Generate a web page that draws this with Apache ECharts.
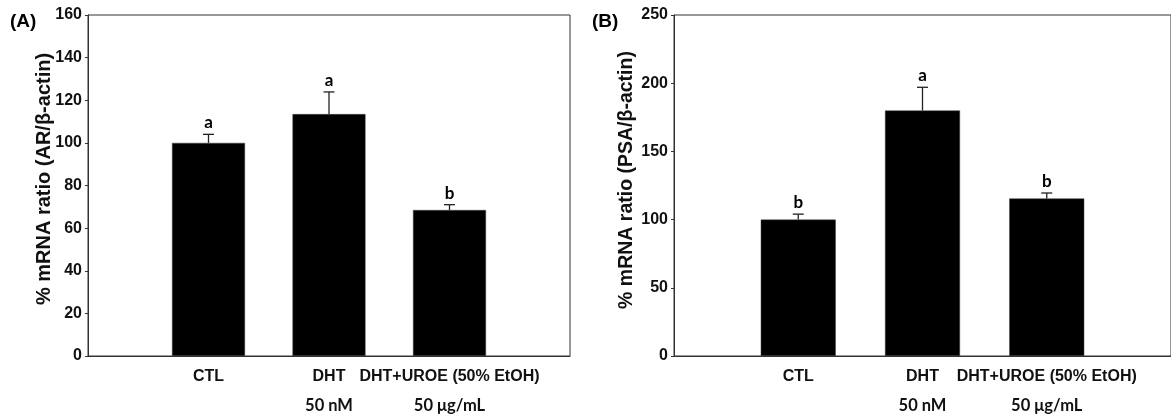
<!DOCTYPE html>
<html>
<head>
<meta charset="UTF-8">
<title>mRNA ratio</title>
<style>
body { padding:0; border:0; margin:0; background:#fff; }
</style>
<script src="https://cdn.jsdelivr.net/npm/echarts@6/dist/echarts.min.js"></script>
</head>
<body>
<div id="main" style="width:1171px;height:414px;"></div>
<script>
// groups (first line) and dose (second line)
var categories = ['CTL', 'DHT', 'DHT+UROE (50% EtOH)'];
var doses = ['', '50 nM', '50 \u03bcg/mL'];

// panel A : AR
var arMean = [100, 113.5, 68.5];
var arErr = [4, 10.4, 2.5];
var arLetter = ['a', 'a', 'b'];
var arTicks = [0, 20, 40, 60, 80, 100, 120, 140, 160];

// panel B : PSA
var psaMean = [100, 180, 115.5];
var psaErr = [4, 17, 4];
var psaLetter = ['b', 'a', 'b'];
var psaTicks = [0, 50, 100, 150, 200, 250];

var bold = 'Liberation Sans, Arial, sans-serif';
var cal = 'Lato, Open Sans, sans-serif';

function barData(m) {
    return m.map(function (v, i) { return [i + 1, v]; });
}
function errData(m, e, l) {
    return m.map(function (v, i) { return [i + 1, v, e[i], l[i]]; });
}

function renderErr(params, api) {
    var x = api.value(0), y = api.value(1), e = api.value(2);
    var p0 = api.coord([x, y]);
    var p1 = api.coord([x, y + e]);
    var st = { stroke: '#222', lineWidth: 1.3 };
    return {
        type: 'group',
        children: [
            { type: 'line', shape: { x1: p0[0], y1: p0[1], x2: p1[0], y2: p1[1] }, style: st },
            { type: 'line', shape: { x1: p1[0] - 5.5, y1: p1[1], x2: p1[0] + 5.5, y2: p1[1] }, style: st },
            { type: 'text', x: p1[0], y: p1[1] - 3,
              style: { text: api.value(3), fill: '#000', font: 'bold 17px ' + cal, align: 'center', verticalAlign: 'bottom' } }
        ]
    };
}

function xAxisOf(idx) {
    return {
        type: 'value', gridIndex: idx, min: 0, max: 4, interval: 1,
        axisLine: { lineStyle: { color: '#333', width: 1 } },
        axisTick: { show: false },
        splitLine: { show: false },
        axisLabel: {
            margin: 6,
            showMinLabel: false, showMaxLabel: false,
            formatter: function (v) {
                var i = Math.round(v) - 1;
                if (i < 0 || i >= categories.length) return '';
                var s = '{c|' + categories[i] + '}';
                if (doses[i]) s += '\n{d|' + doses[i] + '}';
                return s;
            },
            rich: {
                c: { fontFamily: bold, fontWeight: 'bold', fontSize: 16, color: '#111', lineHeight: 29 },
                d: { fontFamily: cal, fontWeight: 'bold', fontSize: 16.5, color: '#111', lineHeight: 29 }
            }
        }
    };
}

function yAxisOf(idx, ticks) {
    return {
        type: 'value', gridIndex: idx, min: ticks[0], max: ticks[ticks.length - 1],
        interval: ticks[1] - ticks[0],
        axisLine: { show: true, lineStyle: { color: '#333', width: 1 } },
        axisTick: { show: true, inside: false, length: 3, lineStyle: { color: '#333' } },
        splitLine: { show: false },
        axisLabel: { margin: 6, fontFamily: bold, fontWeight: 'bold', fontSize: 16, color: '#111' }
    };
}

var myChart = echarts.init(document.getElementById('main'));
var option = {
    animation: false,
    backgroundColor: '#fff',
    grid: [
        { left: 88, top: 15, width: 482, height: 350, show: true, borderColor: '#333', borderWidth: 1 },
        { left: 674, top: 15, width: 499, height: 349, show: true, borderColor: '#333', borderWidth: 1 }
    ],
    xAxis: [xAxisOf(0), xAxisOf(1)],
    yAxis: [yAxisOf(0, arTicks), yAxisOf(1, psaTicks)],
    graphic: [
        { type: 'text', left: 10, top: 12, style: { text: '(A)', font: 'bold 19px ' + bold, fill: '#000' } },
        { type: 'text', left: 592, top: 12, style: { text: '(B)', font: 'bold 19px ' + bold, fill: '#000' } },
        { type: 'text', x: 44, y: 179, rotation: Math.PI / 2,
          style: { text: '% mRNA ratio (AR/\u03b2-actin)', font: 'bold 20px ' + bold, fill: '#111', align: 'center', verticalAlign: 'middle' } },
        { type: 'text', x: 627, y: 180, rotation: Math.PI / 2,
          style: { text: '% mRNA ratio (PSA/\u03b2-actin)', font: 'bold 19.5px ' + bold, fill: '#111', align: 'center', verticalAlign: 'middle' } }
    ],
    series: [
        { type: 'bar', xAxisIndex: 0, yAxisIndex: 0, barWidth: 73, data: barData(arMean),
          itemStyle: { color: '#000', borderColor: '#444', borderWidth: 0.5 } },
        { type: 'custom', xAxisIndex: 0, yAxisIndex: 0, renderItem: renderErr, data: errData(arMean, arErr, arLetter), z: 3 },
        { type: 'bar', xAxisIndex: 1, yAxisIndex: 1, barWidth: 75, data: barData(psaMean),
          itemStyle: { color: '#000', borderColor: '#444', borderWidth: 0.5 } },
        { type: 'custom', xAxisIndex: 1, yAxisIndex: 1, renderItem: renderErr, data: errData(psaMean, psaErr, psaLetter), z: 3 }
    ]
};
myChart.setOption(option);
</script>
</body>
</html>
